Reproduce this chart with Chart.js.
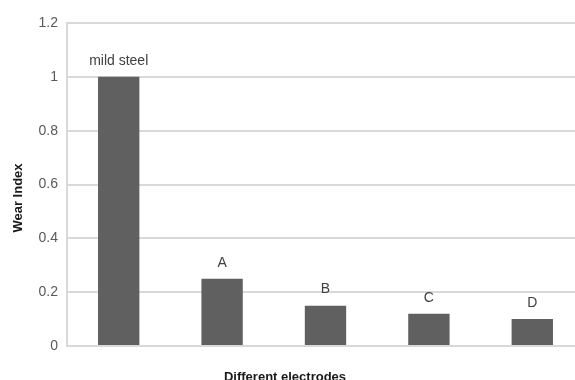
<!DOCTYPE html>
<html>
<head>
<meta charset="utf-8">
<script src="https://cdn.jsdelivr.net/npm/chart.js@4"></script>
<style>
html,body{margin:0;padding:0;background:#fff;overflow:hidden;width:575px;height:380px;}
#wrap{width:585px;height:380px;position:relative;}
</style>
</head>
<body>
<div id="wrap"><canvas id="c"></canvas></div>
<script>
const categories = ["mild steel", "A", "B", "C", "D"];
const wearIndex = [1, 0.25, 0.15, 0.12, 0.1];
const yTicks = [0, 0.2, 0.4, 0.6, 0.8, 1, 1.2];
const xTitle = "Different electrodes";
const yTitle = "Wear Index";

const FONT = "'Liberation Sans', Arial, sans-serif";

const labelPlugin = {
  id: 'barLabels',
  afterDatasetsDraw(chart) {
    const ctx = chart.ctx;
    const meta = chart.getDatasetMeta(0);
    ctx.save();
    ctx.fillStyle = '#404040';
    ctx.font = '14px ' + FONT;
    ctx.textAlign = 'center';
    ctx.textBaseline = 'middle';
    meta.data.forEach((bar, i) => {
      ctx.fillText(categories[i], bar.x, bar.y - 16);
    });
    // axis titles
    const a = chart.chartArea;
    ctx.fillStyle = '#1a1a1a';
    ctx.font = 'bold 13px ' + FONT;
    ctx.fillText(xTitle, 285, a.bottom + 31.5);
    ctx.translate(18, 198);
    ctx.rotate(-Math.PI / 2);
    ctx.fillText(yTitle, 0, 0);
    ctx.restore();
  }
};

new Chart(document.getElementById('c'), {
  type: 'bar',
  data: {
    labels: categories,
    datasets: [{
      data: wearIndex,
      backgroundColor: '#606060',
      borderWidth: 0,
      barPercentage: 0.4,
      categoryPercentage: 1.0
    }]
  },
  options: {
    responsive: true,
    maintainAspectRatio: false,
    animation: false,
    layout: { padding: { top: 23, left: 0, right: 1, bottom: 0 } },
    plugins: { legend: { display: false }, tooltip: { enabled: false } },
    scales: {
      x: {
        grid: { display: false, drawTicks: false },
        border: { display: true, color: '#d9d9d9', width: 2 },
        ticks: { display: false },
        afterFit: s => { s.height = 34; }
      },
      y: {
        min: 0, max: 1.2,
        afterBuildTicks: s => { s.ticks = yTicks.map(v => ({ value: v })); },
        grid: { color: '#d9d9d9', lineWidth: 2, drawTicks: false },
        border: { display: true, color: '#d9d9d9', width: 2 },
        ticks: {
          color: '#595959',
          font: { family: FONT, size: 14 },
          padding: 9,
          callback: v => String(v)
        },
        afterFit: s => { s.width = 67; }
      }
    }
  },
  plugins: [labelPlugin]
});
</script>
</body>
</html>
